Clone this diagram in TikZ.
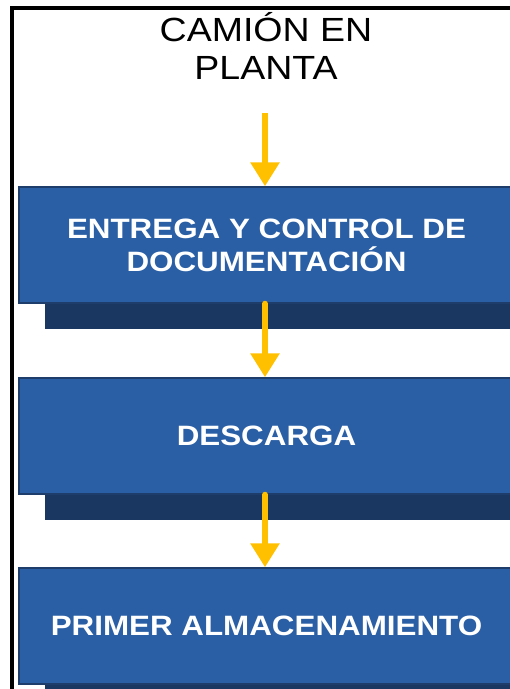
\documentclass[tikz,border=0pt]{standalone}
\usepackage{fontspec}
\setmainfont{Liberation Sans}
\usetikzlibrary{arrows.meta}
\definecolor{boxblue}{HTML}{2A5FA5}
\definecolor{boxedge}{HTML}{1F3D6B}
\definecolor{shadowblue}{HTML}{1A3762}
\definecolor{arrowgold}{HTML}{FFC000}
\tikzset{
  stepbox/.style={draw=boxedge, line width=1.5pt, fill=boxblue, minimum width=495pt, minimum height=116pt,
    inner sep=0pt, align=center, text=white, font=\fontsize{28}{33}\selectfont\bfseries},
  shadowbox/.style={fill=shadowblue, draw=none},
  flowarrow/.style={draw=arrowgold, line width=6pt, -{Triangle[width=28pt,length=24pt]}},
}
\newcommand{\wide}[1]{\scalebox{1.12}[1]{#1}}
\begin{document}
\begin{tikzpicture}[x=1pt,y=-1pt]
\useasboundingbox (0,0) rectangle (510,689);
\begin{scope}
\clip (0,0) rectangle (510,689);
\draw[line width=4pt] (12,8) -- (530,8);
\draw[line width=4pt] (12,6) -- (12,700);
\node[align=center, font=\fontsize{33.5}{38.5}\selectfont] (title) at (266,46) {\wide{CAMIÓN EN}\\\wide{PLANTA}};
\node[stepbox] (b1) at (266.5,245) {};
\node[stepbox] (b2) at (266.5,436) {};
\node[stepbox] (b3) at (266.5,626) {};
\foreach \b in {b1,b2,b3}{
  \fill[shadowblue] ([xshift=27pt,yshift=-25pt]\b.south west) rectangle ([xshift=27pt]\b.north east);
}
\node[stepbox] at (b1) {\wide{ENTREGA Y CONTROL DE}\\\wide{DOCUMENTACIÓN}};
\node[stepbox] at (b2) {\wide{DESCARGA}};
\node[stepbox] at (b3) {\wide{PRIMER ALMACENAMIENTO}};
\coordinate (a0) at (265,113);
\draw[flowarrow] (a0) -- (b1.north -| a0);
\draw[flowarrow, line cap=round] (b1.south -| a0) -- (b2.north -| a0);
\draw[flowarrow, line cap=round] (b2.south -| a0) -- (b3.north -| a0);
\end{scope}
\end{tikzpicture}
\end{document}
